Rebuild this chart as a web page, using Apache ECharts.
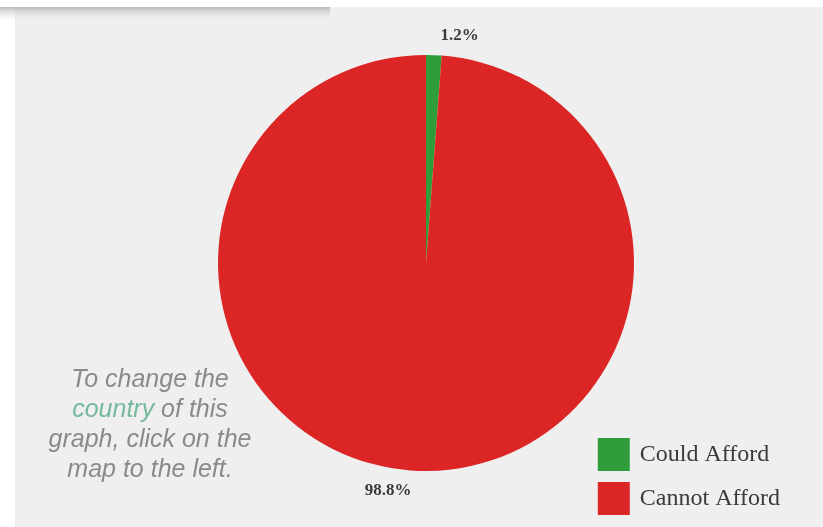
<!DOCTYPE html>
<html>
<head>
<meta charset="utf-8">
<script src="https://cdn.jsdelivr.net/npm/echarts@6/dist/echarts.min.js"></script>
<style>
  html, body { margin: 0; padding: 0; background: #ffffff; }
  #main { width: 823px; height: 527px; }
</style>
</head>
<body>
<div id="main"></div>
<script>
// afford data
var categories = ["Could Afford", "Cannot Afford"];
var percentValues = [1.2, 98.8];
var sliceColors = ["#2f9e3a", "#dc2626"];

var chart = echarts.init(document.getElementById("main"));

var pieData = [];
for (var i = 0; i < categories.length; i++) {
    pieData.push({ name: categories[i], value: percentValues[i], itemStyle: { color: sliceColors[i] } });
}

var option = {
    backgroundColor: "#ffffff",
    animation: false,
    graphic: [
        { type: "rect", left: 15, top: 7, shape: { width: 808, height: 520 }, style: { fill: "#efefef" }, z: -10 },
        {
            type: "rect", left: 0, top: 7, shape: { width: 330, height: 14 }, z: -9,
            style: {
                fill: new echarts.graphic.LinearGradient(0, 0, 0, 1, [
                    { offset: 0, color: "rgba(170,170,170,0.8)" },
                    { offset: 1, color: "rgba(239,239,239,0)" }
                ])
            }
        },
        {
            type: "text", z: 10,
            x: 150, y: 365,
            style: {
                text: "{g|To change the}\n{c|country}{g| of this}\n{g|graph, click on the}\n{g|map to the left.}",
                align: "center",
                verticalAlign: "top",
                lineHeight: 30,
                rich: {
                    g: { fontFamily: "Liberation Sans", fontStyle: "italic", fontSize: 25, fill: "#8a8a8a", lineHeight: 30 },
                    c: { fontFamily: "Liberation Sans", fontStyle: "italic", fontSize: 25, fill: "#74b99c", lineHeight: 30 }
                }
            }
        }
    ],
    legend: {
        orient: "vertical",
        right: 38,
        bottom: 7,
        itemWidth: 32,
        itemHeight: 33,
        itemGap: 11,
        icon: "rect",
        textStyle: { fontFamily: "Liberation Serif", fontSize: 24, color: "#3a3a3a", padding: [0, 0, 0, 5] },
        data: categories
    },
    series: [{
        type: "pie",
        center: [426, 263],
        radius: 208,
        startAngle: 90,
        clockwise: true,
        label: {
            show: true,
            position: "outside",
            formatter: "{c}%",
            fontFamily: "Liberation Serif",
            fontWeight: "bold",
            fontSize: 17,
            color: "#3a3a3a",
            distanceToLabelLine: 0
        },
        labelLine: { show: false, length: 20, length2: 6 },
        data: pieData
    }]
};
chart.setOption(option);
</script>
</body>
</html>
